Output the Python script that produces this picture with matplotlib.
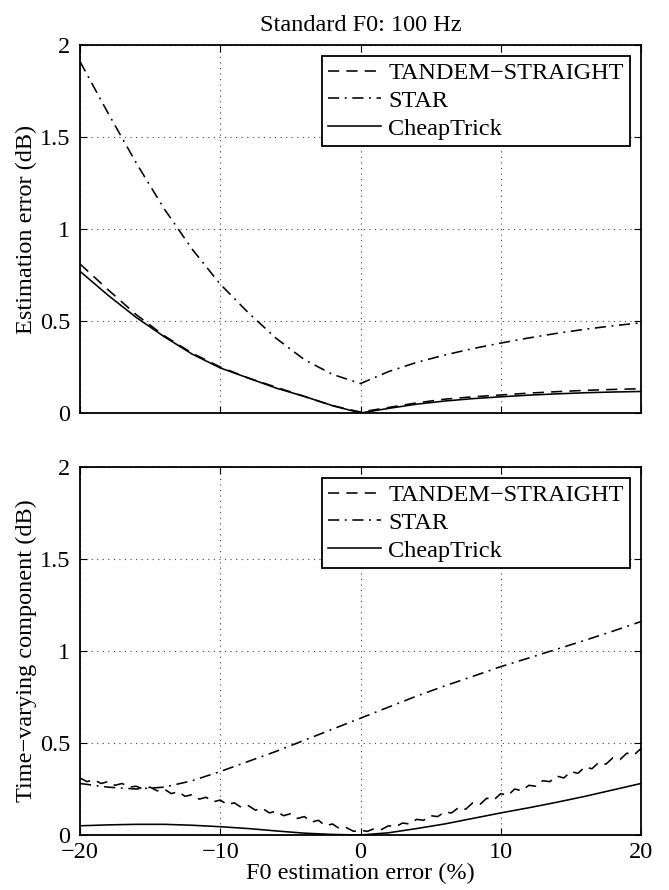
import numpy as np
import matplotlib
matplotlib.use("Agg")
import matplotlib.pyplot as plt

plt.rcParams['font.family'] = ['Liberation Serif', 'DejaVu Serif']
plt.rcParams['mathtext.fontset'] = 'stix'

# ---------------- data ----------------
f0_err = [-20, -18, -16, -14, -12, -10, -8, -6, -4, -2, 0, 2, 4, 6, 8, 10, 12, 14, 16, 18, 20]

# Top panel: estimation error (dB)
err_tandem = [0.81, 0.67, 0.535, 0.42, 0.325, 0.25, 0.19, 0.14, 0.09, 0.04, 0.005,
              0.03, 0.055, 0.075, 0.088, 0.098, 0.108, 0.116, 0.123, 0.128, 0.132]
err_star = [1.91, 1.63, 1.36, 1.11, 0.89, 0.70, 0.545, 0.405, 0.29, 0.21, 0.16,
            0.225, 0.275, 0.315, 0.35, 0.38, 0.408, 0.433, 0.455, 0.474, 0.49]
err_cheap = [0.77, 0.64, 0.52, 0.415, 0.32, 0.245, 0.19, 0.135, 0.09, 0.04, 0.0,
             0.025, 0.048, 0.065, 0.078, 0.088, 0.097, 0.104, 0.11, 0.114, 0.117]

# Bottom panel: time-varying component (dB)
tv_star = [0.28, 0.26, 0.25, 0.26, 0.295, 0.345, 0.40, 0.455, 0.515, 0.575, 0.635,
           0.695, 0.755, 0.81, 0.862, 0.915, 0.962, 1.01, 1.058, 1.108, 1.16]
tv_cheap = [0.05, 0.055, 0.058, 0.058, 0.053, 0.045, 0.035, 0.022, 0.01, 0.003, 0.0,
            0.012, 0.035, 0.06, 0.09, 0.12, 0.148, 0.178, 0.21, 0.245, 0.28]

f0_err_fine = [-20.0, -19.5, -19.0, -18.5, -18.0, -17.5, -17.0, -16.5, -16.0, -15.5,
               -15.0, -14.5, -14.0, -13.5, -13.0, -12.5, -12.0, -11.5, -11.0, -10.5,
               -10.0, -9.5, -9.0, -8.5, -8.0, -7.5, -7.0, -6.5, -6.0, -5.5,
               -5.0, -4.5, -4.0, -3.5, -3.0, -2.5, -2.0, -1.5, -1.0, -0.5,
               0.0, 0.5, 1.0, 1.5, 2.0, 2.5, 3.0, 3.5, 4.0, 4.5,
               5.0, 5.5, 6.0, 6.5, 7.0, 7.5, 8.0, 8.5, 9.0, 9.5,
               10.0, 10.5, 11.0, 11.5, 12.0, 12.5, 13.0, 13.5, 14.0, 14.5,
               15.0, 15.5, 16.0, 16.5, 17.0, 17.5, 18.0, 18.5, 19.0, 19.5, 20.0]
tv_tandem = [0.31, 0.29, 0.30, 0.28, 0.29, 0.27, 0.28, 0.26, 0.265, 0.25,
             0.26, 0.24, 0.25, 0.225, 0.235, 0.21, 0.22, 0.195, 0.205, 0.18,
             0.19, 0.165, 0.175, 0.15, 0.16, 0.135, 0.145, 0.12, 0.13, 0.105,
             0.115, 0.09, 0.10, 0.07, 0.08, 0.05, 0.06, 0.035, 0.04, 0.02,
             0.025, 0.02, 0.035, 0.03, 0.05, 0.045, 0.065, 0.06, 0.085, 0.08,
             0.105, 0.10, 0.125, 0.12, 0.15, 0.14, 0.175, 0.165, 0.20, 0.19,
             0.225, 0.215, 0.25, 0.24, 0.27, 0.265, 0.295, 0.29, 0.32, 0.31,
             0.345, 0.335, 0.37, 0.36, 0.395, 0.385, 0.42, 0.41, 0.445, 0.435, 0.47]

labels = ['TANDEM\u2212STRAIGHT', 'STAR', 'CheapTrick']
x_ticks = [-20, -10, 0, 10, 20]
y_ticks = [0, 0.5, 1, 1.5, 2]
y_ticklabels = ['0', '0.5', '1', '1.5', '2']

# ---------------- figure ----------------
fig = plt.figure(figsize=(6.69, 8.90), dpi=100)
W, H = 669, 890
def rect(l, t, r, b):
    return [l / W, 1 - b / H, (r - l) / W, (b - t) / H]

ax1 = fig.add_axes(rect(80, 45, 641, 413))
ax2 = fig.add_axes(rect(80, 467, 641, 835))

dash = (0, (7, 4.5))
dashdot = (0, (7, 3.5, 1.2, 3.5))
lw = 1.15
FS = 17.5

def style(ax, ylabel, show_x):
    ax.set_xlim(-20, 20)
    ax.set_ylim(0, 2)
    ax.set_xticks(x_ticks)
    ax.set_yticks(y_ticks)
    ax.set_yticklabels(y_ticklabels)
    ax.tick_params(direction='in', top=True, right=True, length=5, width=0.8,
                   labelsize=FS)
    ax.tick_params(axis='y', pad=7)
    ax.tick_params(axis='x', pad=5)
    if not show_x:
        ax.tick_params(labelbottom=False)
    ax.grid(True, linestyle=(0, (1, 4)), color='#444444', linewidth=0.8)
    for s in ax.spines.values():
        s.set_linewidth(1.3)
    ax.set_ylabel(ylabel, fontsize=FS, labelpad=2)
    leg = ax.legend(loc='upper right', fontsize=FS, frameon=True, fancybox=False,
                    edgecolor='black', framealpha=1, handlelength=2.2,
                    handletextpad=0.3, borderpad=0.25, labelspacing=0.24,
                    borderaxespad=0.45)
    leg.get_frame().set_linewidth(1.3)

ax1.plot(f0_err, err_tandem, color='black', linestyle=dash, lw=lw, label=labels[0])
ax1.plot(f0_err, err_star, color='black', linestyle=dashdot, lw=lw, label=labels[1])
ax1.plot(f0_err, err_cheap, color='black', linestyle='-', lw=lw, label=labels[2])
style(ax1, 'Estimation error (dB)', False)
ax1.set_title('Standard F0: 100 Hz', fontsize=FS, pad=10)

ax2.plot(f0_err_fine, tv_tandem, color='black', linestyle=dash, lw=lw, label=labels[0])
ax2.plot(f0_err, tv_star, color='black', linestyle=dashdot, lw=lw, label=labels[1])
ax2.plot(f0_err, tv_cheap, color='black', linestyle='-', lw=lw, label=labels[2])
style(ax2, 'Time\u2212varying component (dB)', True)
ax2.set_xlabel('F0 estimation error (%)', fontsize=FS, labelpad=0)

fig.savefig('out.png', dpi=100)
